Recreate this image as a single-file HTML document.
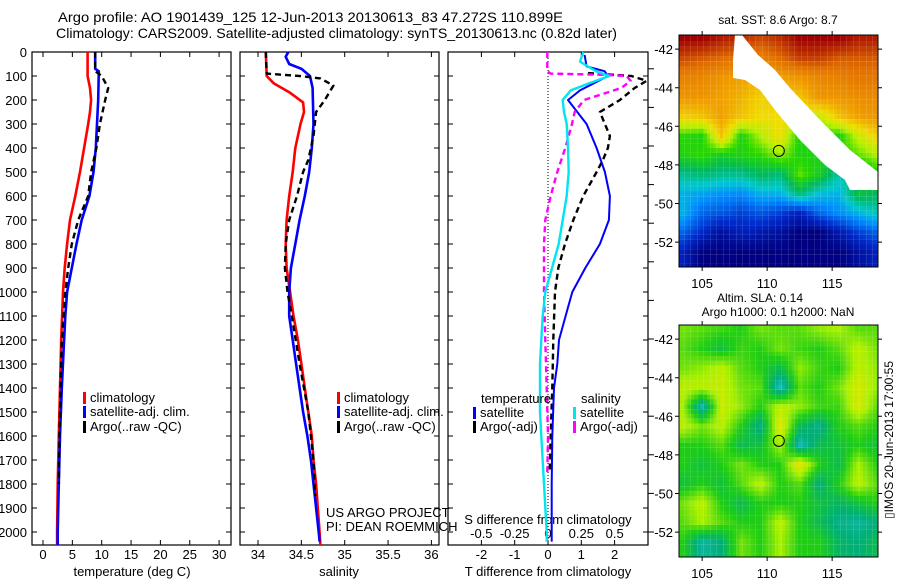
<!DOCTYPE html>
<html><head><meta charset="utf-8">
<style>
html,body{margin:0;padding:0;background:#fff;}
svg{display:block;font-family:"Liberation Sans",sans-serif;}
text{fill:#000;}
</style></head>
<body>
<svg id="fig" width="900" height="580" viewBox="0 0 900 580" xmlns="http://www.w3.org/2000/svg">
<text x="58" y="22" font-size="14" textLength="505" lengthAdjust="spacingAndGlyphs">Argo profile: AO 1901439_125 12-Jun-2013 20130613_83 47.272S 110.899E</text>
<text x="56" y="38" font-size="14" textLength="561" lengthAdjust="spacingAndGlyphs">Climatology: CARS2009. Satellite-adjusted climatology: synTS_20130613.nc (0.82d later)</text>
<g id="p1"></g>
<g id="p2"></g>
<g id="p3"></g>
<g id="m1"></g>
<g id="m2"></g>
</svg>
<script>
// ---------- data ----------
const depthTicks = [0,100,200,300,400,500,600,700,800,900,1000,1100,1200,1300,1400,1500,1600,1700,1800,1900,2000];
const tempTicks = [0,5,10,15,20,25,30];
const salTicks = [34,34.5,35,35.5,36];
const salTickLabels = ["34","34.5","35","35.5","36"];
const tdiffTicks = [-2,-1,0,1,2];
const sdiffTicks = [-0.5,-0.25,0,0.25,0.5];
const sdiffTickLabels = ["-0.5","-0.25","0","0.25","0.5"];

const climTempDepth = [0,100,150,200,250,300,400,500,600,700,800,900,1000,1200,1400,1600,1800,2000,2054];
const climTemp      = [7.6,7.6,8.0,8.2,8.0,7.7,7.0,6.3,5.5,4.6,4.1,3.7,3.4,3.1,2.9,2.7,2.5,2.4,2.4];
const satTempDepth = [0,70,80,200,300,400,500,600,700,800,900,1000,1100,1200,1400,1600,1800,2000,2054];
const satTemp      = [8.9,8.9,9.5,9.4,9.2,9.0,8.6,7.9,6.6,5.7,4.9,4.1,3.8,3.6,3.2,2.9,2.7,2.5,2.5];
const argoTempDepth = [0,80,100,150,200,300,400,500,600,700,800,900,1000,1200,1400,1600,1800];
const argoTemp      = [8.9,8.9,10.0,11.1,10.6,9.7,9.1,8.2,7.7,6.0,4.9,4.3,3.8,3.2,3.0,2.8,2.7];

const climSalDepth = [0,100,130,170,210,250,300,400,500,600,700,800,900,1000,1100,1200,1300,1400,1500,1600,1700,1800,1900,2000,2054];
const climSal      = [34.09,34.10,34.18,34.37,34.52,34.53,34.49,34.43,34.40,34.36,34.33,34.32,34.33,34.37,34.41,34.46,34.50,34.54,34.58,34.62,34.64,34.67,34.69,34.71,34.72];
const satSalDepth = [0,20,50,70,100,150,300,400,500,600,700,800,900,1000,1100,1200,1300,1400,1500,1600,1700,1800,1900,2000,2040];
const satSal      = [34.35,34.32,34.36,34.50,34.60,34.63,34.64,34.62,34.59,34.54,34.48,34.43,34.38,34.36,34.36,34.40,34.44,34.48,34.52,34.57,34.61,34.64,34.67,34.70,34.71];
const argoSalDepth = [0,90,100,110,140,200,250,350,450,500,600,700,800,900,1000,1100,1300,1500,1700,1850];
const argoSal      = [34.09,34.10,34.48,34.72,34.87,34.77,34.67,34.64,34.58,34.52,34.45,34.36,34.32,34.31,34.34,34.39,34.48,34.58,34.64,34.66];

const satTdiffDepth = [12,60,80,100,130,160,200,230,300,400,500,600,700,800,900,1000,1100,1200,1300,1400,1600,1800,2000,2040];
const satTdiff      = [1.1,1.16,1.7,1.8,1.38,0.96,0.6,0.77,1.16,1.46,1.71,1.86,1.83,1.56,1.12,0.73,0.53,0.33,0.28,0.18,0.13,0.11,0.11,0.11];
const argoTdiffDepth = [88,100,120,150,200,250,300,350,400,450,500,600,700,800,900,1000,1200,1400,1600,1750];
const argoTdiff      = [1.2,2.5,2.96,2.6,2.16,1.56,1.71,1.86,1.8,1.65,1.46,1.06,0.76,0.51,0.31,0.21,0.16,0.13,0.08,0.05];
const satSdiffDepth = [0,40,80,100,130,160,200,250,300,400,500,600,700,800,900,1000,1100,1200,1300,1500,1600,1800,2000,2040];
const satSdiff      = [0.265,0.24,0.36,0.46,0.31,0.17,0.11,0.12,0.14,0.15,0.155,0.14,0.11,0.08,0.03,-0.02,-0.04,-0.05,-0.06,-0.06,-0.05,-0.03,-0.01,-0.01];
const argoSdiffDepth = [0,80,90,95,100,120,150,200,250,300,400,500,600,700,800,1000,1200,1400,1600,1750];
const argoSdiff      = [-0.005,-0.005,0.02,0.425,0.59,0.62,0.55,0.27,0.2,0.18,0.13,0.07,0.02,-0.02,-0.03,-0.03,-0.02,-0.01,0,-0.005];

const mapLons = [103.5,105,106.5,108,109.5,111,112.5,114,115.5,117,118.5];
const mapLats = [-41.5,-42.5,-43.5,-44.5,-45.5,-46.5,-47.5,-48.5,-49.5,-50.5,-51.5,-52.5];
const sstGrid = [
[1.0,1.0,0.97,0.95,0.92,0.95,1.0,1.0,1.0,0.97,0.97],
[0.92,0.9,0.88,0.87,0.84,0.88,0.93,0.93,0.9,0.9,0.9],
[0.84,0.83,0.8,0.78,0.75,0.78,0.8,0.83,0.84,0.86,0.86],
[0.8,0.8,0.78,0.75,0.7,0.72,0.72,0.8,0.8,0.82,0.82],
[0.7,0.72,0.78,0.72,0.68,0.68,0.66,0.62,0.72,0.78,0.8],
[0.52,0.5,0.72,0.5,0.6,0.68,0.5,0.52,0.5,0.62,0.7],
[0.5,0.52,0.48,0.5,0.52,0.58,0.5,0.5,0.5,0.55,0.6],
[0.38,0.4,0.38,0.38,0.42,0.4,0.55,0.48,0.36,0.4,0.5],
[0.3,0.28,0.26,0.25,0.3,0.3,0.4,0.32,0.3,0.45,0.42],
[0.3,0.2,0.18,0.15,0.18,0.15,0.1,0.2,0.25,0.3,0.35],
[0.2,0.12,0.05,0.1,0.08,0.05,0.0,0.0,0.08,0.15,0.2],
[0.1,0.0,0.0,0.0,0.0,0.0,0.0,0.0,0.0,0.05,0.1]];
const slaGrid = [
[0.3,0.2,0.1,0,0.3,0.2,0.2,0.4,0.5,0.2,0.2],
[0.2,0,-0.2,0.1,0,0.3,0.1,0,0.2,0.6,0.3],
[0.3,0.4,0.6,0.2,0,-0.3,0.4,0.1,0,0.6,0.4],
[0.6,0.6,0.7,0.3,0.2,-0.9,0.2,0,0.3,0.8,0.4],
[0.5,-0.8,0.7,0.4,0,0.6,0.4,0.1,0.1,0.8,0.2],
[0.6,0.3,0.6,0,-0.6,0.9,-0.3,-0.6,0,0.2,0],
[0,0,0.2,-0.3,-0.2,0.5,-0.8,-0.3,-0.2,0,-0.2],
[0,-0.2,0,0.3,0,0,0.9,0,-0.3,0.5,0],
[-0.2,0,-0.2,0.2,0.6,0,0.2,-0.5,0,0.6,0.2],
[0.3,0.6,0,-0.3,0,0,0,-0.2,-0.4,-0.2,0],
[0.2,0.5,0.2,0,0,0.6,0,-0.3,-0.6,-0.7,-0.5],
[0,-0.7,-0.5,0.3,0,0.5,0,0,-0.4,-0.5,-0.3]];
const mapLonTicks = [105,110,115];
const mapLatTicks = [-42,-44,-46,-48,-50,-52];
const argoLon = 110.899, argoLat = -47.272;

// ---------- helpers ----------
const NS="http://www.w3.org/2000/svg";
function mk(parent, tag, attrs, txt){
  const e=document.createElementNS(NS,tag);
  for(const k in attrs) e.setAttribute(k,attrs[k]);
  if(txt!==undefined) e.textContent=txt;
  parent.appendChild(e); return e;
}
const TOP=52, BOT=545;
const yD = d => TOP + d*0.24;

function panelFrame(g, x0, x1, xs, ticks, labels, name){
  const r=mk(g,'rect',{x:x0,y:TOP,width:x1-x0,height:BOT-TOP,fill:'none',stroke:'#000','stroke-width':1.2});
  
  
  depthTicks.forEach(d=>{
    const t=mk(g,'path',{d:`M${x0},${yD(d)}h5M${x1},${yD(d)}h-5`,stroke:'#000','stroke-width':1});
    
    
  });
  ticks.forEach((v,i)=>{
    const x=xs(v);
    const t=mk(g,'path',{d:`M${x},${TOP}v5M${x},${BOT}v-5`,stroke:'#000','stroke-width':1});
    
    
    if(labels){
      const l=mk(g,'text',{x:x,y:559,'font-size':13,'text-anchor':'middle'},labels[i]);
      
      
    }
  });
}
function profile(g, xs, depths, vals, color, width, dash, name){
  const pts=depths.map((d,i)=>xs(vals[i]).toFixed(1)+','+yD(d).toFixed(1)).join(' ');
  const a={points:pts,fill:'none',stroke:color,'stroke-width':width,'stroke-linejoin':'round'};
  if(dash) a['stroke-dasharray']=dash;
  const p=mk(g,'polyline',a);
  
  
}
function legendRow(g, x, y, color, label, name){
  const b=mk(g,'rect',{x:x,y:y-10,width:3,height:12,fill:color});
  
  
  const t=mk(g,'text',{x:x+7,y:y,'font-size':13},label);
  
  
}
function txt(g,x,y,s,size,anchor,name){
  const t=mk(g,'text',{x:x,y:y,'font-size':size,'text-anchor':anchor||'start'},s);
  
  
  return t;
}

// ---------- panel 1: temperature ----------
const p1=document.getElementById('p1');
const xT = v => 43 + v*5.87;
panelFrame(p1,32,231,xT,tempTicks,tempTicks.map(String),'temperature-panel');
depthTicks.forEach(d=>{ txt(p1,27,yD(d)+5,String(d),13,'end','depth-tick-label'); });
txt(p1,132,576,'temperature (deg C)',13,'middle','temperature-axis-title');
profile(p1,xT,climTempDepth,climTemp,'#ff0000',2.6,null,'temperature-climatology-line');
profile(p1,xT,satTempDepth,satTemp,'#0000ff',2.6,null,'temperature-satellite-line');
profile(p1,xT,argoTempDepth,argoTemp,'#000000',2.4,'6,4','temperature-argo-line');
legendRow(p1,83,402,'#ff0000','climatology','legend-climatology');
legendRow(p1,83,416,'#0000ff','satellite-adj. clim.','legend-satellite');
legendRow(p1,83,431,'#000000','Argo(..raw -QC)','legend-argo');

// ---------- panel 2: salinity ----------
const p2=document.getElementById('p2');
const xS = v => 258 + (v-34)*86.7;
panelFrame(p2,240,439,xS,salTicks,salTickLabels,'salinity-panel');
txt(p2,339,576,'salinity',13,'middle','salinity-axis-title');
profile(p2,xS,climSalDepth,climSal,'#ff0000',2.6,null,'salinity-climatology-line');
profile(p2,xS,satSalDepth,satSal,'#0000ff',2.6,null,'salinity-satellite-line');
profile(p2,xS,argoSalDepth,argoSal,'#000000',2.4,'6,4','salinity-argo-line');
legendRow(p2,337,402,'#ff0000','climatology','legend-climatology');
legendRow(p2,337,416,'#0000ff','satellite-adj. clim.','legend-satellite');
legendRow(p2,337,431,'#000000','Argo(..raw -QC)','legend-argo');
txt(p2,326,517,'US ARGO PROJECT',13,'start','project-credit');
txt(p2,326,531,'PI: DEAN ROEMMICH',13,'start','pi-credit');

// ---------- panel 3: differences ----------
const p3=document.getElementById('p3');
const xTd = v => 548 + v*33.3;
const xSd = v => 548 + v*133.3;
panelFrame(p3,448,648,xTd,tdiffTicks,tdiffTicks.map(String),'difference-panel');
const zl=mk(p3,'line',{x1:548,y1:TOP,x2:548,y2:BOT,stroke:'#000','stroke-width':1,'stroke-dasharray':'1,2'});


for(let k=0;k<13;k++){
  const y=532-k*38.6;
  const t=mk(p3,'path',{d:`M648,${y}h6`,stroke:'#000','stroke-width':1});
  
  
}
sdiffTicks.forEach((v,i)=>{ txt(p3,xSd(v),538,sdiffTickLabels[i],13,'middle','s-diff-tick-label'); });
txt(p3,548,524,'S difference from climatology',13,'middle','s-diff-axis-title');
txt(p3,548,576,'T difference from climatology',13,'middle','t-diff-axis-title');
profile(p3,xTd,argoTdiffDepth,argoTdiff,'#000000',2.4,'6,4','t-diff-argo-line');
profile(p3,xTd,satTdiffDepth,satTdiff,'#0000ff',2,null,'t-diff-satellite-line');
profile(p3,xSd,argoSdiffDepth,argoSdiff,'#ff00ff',2.4,'6,4','s-diff-argo-line');
profile(p3,xSd,satSdiffDepth,satSdiff,'#00e5ee',2.4,null,'s-diff-satellite-line');
txt(p3,481,403,'temperature',13,'start','legend-temperature-heading');
legendRow(p3,473,417,'#0000ff','satellite','legend-t-satellite');
legendRow(p3,473,431,'#000000','Argo(-adj)','legend-t-argo');
txt(p3,581,403,'salinity',13,'start','legend-salinity-heading');
legendRow(p3,573,417,'#00e5ee','satellite','legend-s-satellite');
legendRow(p3,573,431,'#ff00ff','Argo(-adj)','legend-s-argo');

// ---------- maps ----------
function lerpColor(stops, v){
  v=Math.max(stops[0][0],Math.min(stops[stops.length-1][0],v));
  for(let i=1;i<stops.length;i++){
    if(v<=stops[i][0]){
      const a=stops[i-1],b=stops[i],t=(v-a[0])/(b[0]-a[0]||1);
      const c=[0,1,2].map(j=>Math.round(a[1][j]+(b[1][j]-a[1][j])*t));
      return `rgb(${c[0]},${c[1]},${c[2]})`;
    }
  }
}
const sstStops=[[0,[0,0,128]],[0.12,[0,40,200]],[0.25,[0,140,255]],[0.33,[0,200,210]],[0.42,[0,185,90]],[0.52,[40,215,0]],[0.6,[180,240,0]],[0.68,[240,220,0]],[0.78,[240,160,0]],[0.88,[225,110,0]],[1,[160,0,0]]];
const slaStops=[[-1,[30,190,210]],[-0.5,[0,175,120]],[0,[30,205,20]],[0.5,[170,240,0]],[1,[240,225,0]]];
function sample(grid, lon, lat){
  let fx=(lon-mapLons[0])/1.5, fy=(mapLats[0]-lat)/1.0;
  fx=Math.max(0,Math.min(mapLons.length-1.001,fx)); fy=Math.max(0,Math.min(mapLats.length-1.001,fy));
  const i=Math.floor(fx),j=Math.floor(fy),tx=fx-i,ty=fy-j;
  return grid[j][i]*(1-tx)*(1-ty)+grid[j][i+1]*tx*(1-ty)+grid[j+1][i]*(1-tx)*ty+grid[j+1][i+1]*tx*ty;
}
function drawMap(g, y0, grid, stops, name){
  const X0=679,X1=878,Y1=y0+232;
  const xL = lon => 679 + (lon-103.22)*13;
  const yL = lat => y0 + (-41.27-lat)*19.3;
  const cells=mk(g,'g',{});
  
  
  for(let lat=-41.25; lat>-53.5; lat-=0.25){
    for(let lon=103.25; lon<118.75; lon+=0.25){
      const x=xL(lon-0.125), y=yL(lat+0.125);
      const c=mk(cells,'rect',{x:Math.max(X0,x).toFixed(1),y:Math.max(y0,y).toFixed(1),width:(Math.min(X1,x+3.3)-Math.max(X0,x)).toFixed(1),height:(Math.min(Y1,y+4.9)-Math.max(y0,y)).toFixed(1),fill:lerpColor(stops,sample(grid,lon,lat))});
      if(+c.getAttribute('width')<=0||+c.getAttribute('height')<=0) c.remove();
    }
  }
  return {xL,yL,X0,X1,Y1};
}
function mapFrame(g,y0,geo,name){
  const {xL,yL,X0,X1,Y1}=geo;
  const r=mk(g,'rect',{x:X0,y:y0,width:X1-X0,height:Y1-y0,fill:'none',stroke:'#000','stroke-width':1});
  
  
  mapLonTicks.forEach(v=>{
    const x=xL(v);
    const t=mk(g,'path',{d:`M${x},${y0}v-4M${x},${Y1}v4`,stroke:'#000'});
    
    
    txt(g,x,Y1+21,String(v),13,'middle','lon-tick-label');
  });
  mapLatTicks.forEach(v=>{
    const y=yL(v);
    const t=mk(g,'path',{d:`M${X0},${y}h-4M${X1},${y}h4`,stroke:'#000'});
    
    
    txt(g,X0-6,y+5,String(v),13,'end','lat-tick-label');
  });
  const c=mk(g,'circle',{cx:xL(argoLon),cy:yL(argoLat),r:5.5,fill:'none',stroke:'#000','stroke-width':1});
  
  
}
const m1=document.getElementById('m1');
const g1=drawMap(m1,35,sstGrid,sstStops,'sst-map');
const sw=mk(m1,'polygon',{points:'735,35 742,35 758,55 775,70 790,88 820,120 850,150 878,172 878,190 850,190 845,180 825,165 800,140 775,110 760,90 745,80 733,78 733,60',fill:'#fff'});


mapFrame(m1,35,g1,'sst-map');
txt(m1,778,24,'sat. SST: 8.6 Argo: 8.7',12,'middle','sst-map-title');

const m2=document.getElementById('m2');
const g2=drawMap(m2,325,slaGrid,slaStops,'sla-map');
mapFrame(m2,325,g2,'sla-map');
txt(m2,760,302,'Altim. SLA: 0.14',12,'middle','sla-map-title');
txt(m2,778,316,'Argo h1000: 0.1 h2000: NaN',12,'middle','sla-map-subtitle');
const ts=txt(m2,0,0,'▯IMOS 20-Jun-2013 17:00:55',12,'middle','timestamp');
ts.setAttribute('transform','translate(893,440) rotate(-90)');
</script>
</body></html>
